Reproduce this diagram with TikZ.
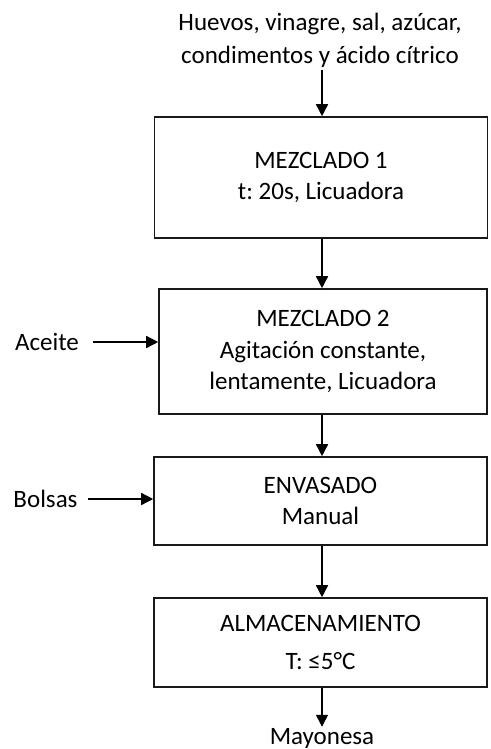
\documentclass[tikz,border=0pt]{standalone}
\usepackage{fontspec}
\setmainfont{Carlito}
\usetikzlibrary{arrows.meta}
\frenchspacing
\tikzset{
  procbox/.style={draw=black!90, line width=1.6pt, inner sep=0pt, align=center,
    font=\fontsize{25}{31.5}\selectfont},
  lbl/.style={inner sep=0pt, align=center, font=\fontsize{25}{33}\selectfont},
  arr/.style={line width=1.5pt, -{Triangle[length=12pt,width=12pt]}}
}
\begin{document}
\begin{tikzpicture}[x=1pt,y=-1pt]
\useasboundingbox (0,0) rectangle (490,749);
\node[lbl] (in) at (320,40) {Huevos, vinagre, sal, azúcar,\\condimentos y ácido cítrico};
\node[procbox, minimum width=333pt, minimum height=121pt] (b1) at (321,177.5) {MEZCLADO 1\\t: 20s, Licuadora};
\node[procbox, minimum width=328pt, minimum height=125pt] (b2) at (323,351.5) {MEZCLADO 2\\Agitación constante,\\lentamente, Licuadora};
\node[procbox, minimum width=333pt, minimum height=88pt] (b3) at (320.5,501) {ENVASADO\\Manual};
\node[procbox, minimum width=333pt, minimum height=89pt] (b4) at (320.5,642.5) {ALMACENAMIENTO\\[6pt]T: ≤5°C};
\node[lbl] (ac) at (47,342) {Aceite};
\node[lbl] (bo) at (45.5,499) {Bolsas};
\node[lbl, inner sep=1pt] (may) at (322,738) {Mayonesa};
\coordinate (x0) at (322,0);
\draw[arr, shorten <=3pt] (in.south -| x0) -- (b1.north -| x0);
\draw[arr] (b1.south -| x0) -- (b2.north -| x0);
\draw[arr] (b2.south -| x0) -- (b3.north -| x0);
\draw[arr] (b3.south -| x0) -- (b4.north -| x0);
\draw[arr] (b4.south -| x0) -- (may.north -| x0);
\draw[arr, shorten <=14pt] (ac.east) -- (ac.east -| b2.west);
\draw[arr, shorten <=10pt] (bo.east) -- (bo.east -| b3.west);
\end{tikzpicture}
\end{document}
